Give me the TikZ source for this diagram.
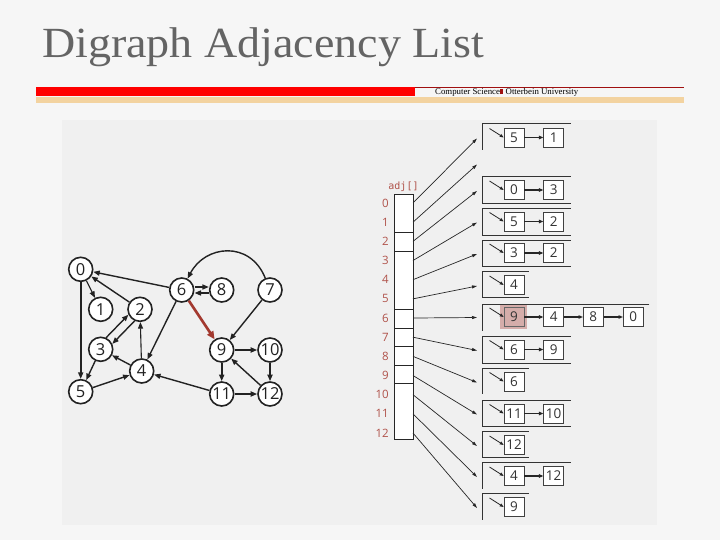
\documentclass[tikz,border=0pt]{standalone}
\usepackage{fontspec}
\usetikzlibrary{arrows.meta}
\newfontfamily\titlefont{Liberation Serif}
\newfontfamily\digfont{Open Sans}
\newfontfamily\monofont{DejaVu Sans Mono}
\definecolor{bgc}{HTML}{F6F6F6}
\definecolor{panelc}{HTML}{F0F0F0}
\definecolor{titlec}{HTML}{646464}
\definecolor{barred}{HTML}{FF0000}
\definecolor{bartan}{HTML}{F3D3A0}
\definecolor{darkline}{HTML}{A01010}
\definecolor{idxc}{HTML}{B0524A}
\definecolor{edgec}{HTML}{222222}
\definecolor{hlred}{HTML}{A3392F}
\definecolor{hlfill}{HTML}{D5ADAA}
\tikzset{
  gnode/.style={circle, draw=edgec, line width=1.6pt, fill=white, minimum size=24pt, inner sep=0pt, font=\digfont\fontsize{16.5}{16.5}\selectfont, text=edgec},
  gedge/.style={draw=edgec, line width=1.4pt, -{Triangle[length=6.5pt,width=5pt]}},
  thickedge/.style={gedge, line width=2pt},
  rededge/.style={draw=hlred, line width=2.6pt, -{Triangle[length=8pt,width=7pt]}},
  cell/.style={draw=black!75, line width=0.6pt, fill=white, minimum width=20pt, minimum height=19pt, inner sep=0pt, font=\digfont\fontsize{13.5}{13.5}\selectfont, text=black!80},
  link/.style={draw=black!85, line width=1.1pt, -{Triangle[length=4.5pt,width=3.5pt]}},
  ptr/.style={draw=black!85, line width=0.8pt, -{Triangle[length=4pt,width=3pt]}},
  aptr/.style={draw=black!85, line width=0.7pt, -{Triangle[length=5pt,width=3pt]}},
  bracket/.style={draw=black!80, line width=0.7pt},
  idx/.style={anchor=east, font=\digfont\fontsize{11.5}{11.5}\selectfont, text=idxc, inner sep=0pt}
}
\begin{document}
\begin{tikzpicture}[x=1pt,y=-1pt]
\useasboundingbox (0,0) rectangle (720,540);
\fill[bgc] (0,0) rectangle (720,540);
% title and header bars
\node[anchor=base west, inner sep=0pt, font=\titlefont\fontsize{43}{46}\selectfont, text=titlec, xscale=1.07, transform shape] (title) at (42,58) {Digraph Adjacency List};
\fill[barred] (36,87) rectangle (415,96.5);
\fill[bartan] (36,97) rectangle (684,103.5);
\draw[darkline, line width=0.8pt] (415,87.4) -- (684,87.4);
\node[anchor=west, inner sep=0pt, font=\titlefont\fontsize{8.8}{9}\selectfont] (footer) at (435,92) {Computer Science\textcolor{darkline}{\rule{3.5pt}{5pt}} Otterbein University};
% panel
\fill[panelc] (62,120) rectangle (657,525);

% ---------- graph ----------
\node[gnode] (g0) at (80.7,269.3) {0};
\node[gnode] (g1) at (100.7,309.3) {1};
\node[gnode] (g2) at (140,309.3) {2};
\node[gnode] (g3) at (100.7,349.3) {3};
\node[gnode] (g4) at (141.7,371) {4};
\node[gnode] (g5) at (80.7,391.7) {5};
\node[gnode] (g6) at (181.7,290) {6};
\node[gnode] (g8) at (221.7,290) {8};
\node[gnode] (g7) at (270,290) {7};
\node[gnode] (g9) at (221.7,350) {9};
\node[gnode] (g10) at (270,350) {10};
\node[gnode] (g11) at (221.7,394) {11};
\node[gnode] (g12) at (270,394) {12};

\draw[gedge, line width=1.1pt] (g0) -- (g1);
\draw[thickedge] (g0) -- (g5);
\draw[gedge] (g2) -- (g0);
\draw[gedge] (g6) -- (g0);
\draw[gedge] (g3.65) -- (g2.205);
\draw[gedge] (g2.245) -- (g3.25);
\draw[gedge] (g3) -- (g5);
\draw[gedge] (g5) -- (g4);
\draw[gedge] (g4) -- (g3);
\draw[gedge, line width=1.1pt] (g4) -- (g2);
\draw[gedge] (g6) -- (g4);
\draw[gedge] ([yshift=3pt]g6.east) -- ([yshift=3pt]g8.west);
\draw[gedge] ([yshift=-3pt]g8.west) -- ([yshift=-3pt]g6.east);
\draw[gedge] (g7) .. controls (250,240) and (205,245) .. (g6);
\draw[rededge] (g6) -- (g9);
\draw[gedge] (g7) -- (g9);
\draw[thickedge] (g9) -- (g10);
\draw[thickedge] (g9) -- (g11);
\draw[thickedge] (g10) -- (g12);
\draw[thickedge] (g11) -- (g12);
\draw[gedge] (g12) -- (g9);
\draw[gedge] (g11) -- (g4);

% ---------- adj[] array ----------
\node[anchor=base, inner sep=0pt, font=\monofont\fontsize{10}{10}\selectfont, text=idxc] (adjlabel) at (403.5,189.5) {adj[]};
\draw[fill=white, draw=black!85, line width=0.7pt] (394,194.3) rectangle (413,439);
\foreach \yy in {232.3,251,309.3,328.3,346.7,365,383.3}
  \draw[black!85, line width=0.7pt] (394,\yy) -- (413,\yy);
\foreach \i in {0,...,12} {
  \pgfmathsetmacro{\ry}{203+19.17*\i}
  \node[idx] (i\i) at (389,\ry) {\i};
  \coordinate (a\i) at (413,\ry);
}

% ---------- list end points ----------
\coordinate (l0) at (477,138.5);
\coordinate (l1) at (477,164.5);
\coordinate (l2) at (477,191);
\coordinate (l3) at (477,222.5);
\coordinate (l4) at (477,254);
\coordinate (l5) at (477,286);
\coordinate (l6) at (477,317.5);
\coordinate (l7) at (477,350.5);
\coordinate (l8) at (477,382.5);
\coordinate (l9) at (477,414.5);
\coordinate (l10) at (477,446);
\coordinate (l11) at (477,477);
\coordinate (l12) at (477,508);
\foreach \i in {0,...,12} \draw[aptr] (a\i) -- (l\i);

% ---------- brackets ----------
\draw[bracket] (570.7,123.5) -- (482,123.5) -- (482,150.5);
\draw[bracket] (570.7,176.5) -- (482,176.5) -- (482,203.5) -- (570.7,203.5);
\draw[bracket] (570.7,208.3) -- (482,208.3) -- (482,235) -- (570.7,235);
\draw[bracket] (570.7,240) -- (482,240) -- (482,266.7) -- (570.7,266.7);
\draw[bracket] (528.7,271.7) -- (482,271.7) -- (482,297.7) -- (528.7,297.7);
\draw[bracket] (649.3,304) -- (482,304) -- (482,330.5);
\draw[bracket] (570.7,336) -- (482,336) -- (482,363) -- (570.7,363);
\draw[bracket] (528.7,368.3) -- (482,368.3) -- (482,394);
\draw[bracket] (570.7,400) -- (482,400) -- (482,426.7) -- (570.7,426.7);
\draw[bracket] (528.7,431.7) -- (482,431.7) -- (482,457.5) -- (528.7,457.5);
\draw[bracket] (570.7,462.3) -- (482,462.3) -- (482,489);
\draw[bracket] (528.7,493.3) -- (482,493.3) -- (482,520);

% ---------- list cells ----------
\fill[hlfill] (500,305) rectangle (527,328.5);
% list 0
\node[cell] (c0a) at (514,137.5) {5};
\node[cell] (c0b) at (553.7,137.5) {1};
\draw[link] (c0a) -- (c0b);
% list 2
\node[cell] (c2a) at (514,190) {0};
\node[cell] (c2b) at (553.7,190) {3};
\draw[link] (c2a) -- (c2b);
% list 3
\node[cell] (c3a) at (514,221.5) {5};
\node[cell] (c3b) at (553.7,221.5) {2};
\draw[link] (c3a) -- (c3b);
% list 4
\node[cell] (c4a) at (514,253) {3};
\node[cell] (c4b) at (553.7,253) {2};
\draw[link] (c4a) -- (c4b);
% list 5
\node[cell] (c5a) at (514,285) {4};
% list 6
\node[cell, fill=hlfill, draw=black!60] (c6a) at (514,317) {9};
\node[cell] (c6b) at (553.7,317) {4};
\node[cell] (c6c) at (593.3,317) {8};
\node[cell] (c6d) at (633.3,317) {0};
\draw[link] (c6a) -- (c6b);
\draw[link] (c6b) -- (c6c);
\draw[link] (c6c) -- (c6d);
% list 7
\node[cell] (c7a) at (514,349.5) {6};
\node[cell] (c7b) at (553.7,349.5) {9};
\draw[link] (c7a) -- (c7b);
% list 8
\node[cell] (c8a) at (514,381.5) {6};
% list 9
\node[cell] (c9a) at (514,413.5) {11};
\node[cell] (c9b) at (553.7,413.5) {10};
\draw[link] (c9a) -- (c9b);
% list 10
\node[cell] (c10a) at (514,445) {12};
% list 11
\node[cell] (c11a) at (514,476) {4};
\node[cell] (c11b) at (553.7,476) {12};
\draw[link] (c11a) -- (c11b);
% list 12
\node[cell] (c12a) at (514,507) {9};

% first pointers
\foreach \i/\cy in {0/137.5,2/190,3/221.5,4/253,5/285,6/317,7/349.5,8/381.5,9/413.5,10/445,11/476,12/507} {
  \coordinate (s\i) at (489.5,\cy-9);
  \draw[ptr] (s\i) -- (c\i a.west);
}
\end{tikzpicture}
\end{document}
